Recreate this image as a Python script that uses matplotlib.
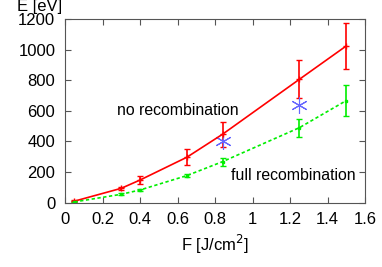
import numpy as np
import matplotlib.pyplot as plt

plt.rcParams['font.family'] = ['Liberation Sans', 'DejaVu Sans']

# data
fluence = [0.05, 0.3, 0.4, 0.65, 0.84, 1.25, 1.5]
e_norec = [10, 94, 148, 297, 447, 806, 1024]
err_norec = [5, 10, 27, 53, 82, 125, 150]
e_fullrec = [5, 55, 83, 177, 268, 490, 667]
err_fullrec = [3, 6, 8, 12, 25, 60, 100]
star_f = [0.84, 1.25]
star_e = [400, 635]

fig = plt.figure(figsize=(3.82, 2.67), dpi=100)
ax = fig.add_axes([65/382, 1 - 202.7/267, 300/382, 183.7/267])

ax.errorbar(fluence, e_norec, yerr=err_norec, color='#ff0000', lw=1.2,
            marker='+', ms=4, capsize=2, elinewidth=1.2)
ax.errorbar(fluence, e_fullrec, yerr=err_fullrec, color='#00ee00', lw=1.2,
            ls=(0, (2, 1.5)), marker='s', ms=2, capsize=2, elinewidth=1.2)
ax.plot(star_f, star_e, ls='none', marker=(6, 2, 0), ms=12, color='#6666ff',
        mew=0.8)

ax.text(0.277, 600, 'no recombination', fontsize=11.4, va='center')
ax.text(0.884, 176, 'full recombination', fontsize=11.4, va='center')

ax.set_xlim(0, 1.6)
ax.set_ylim(0, 1200)
ax.set_xticks(np.arange(0, 1.61, 0.2))
ax.set_xticklabels(['0', '0.2', '0.4', '0.6', '0.8', '1', '1.2', '1.4', '1.6'])
ax.set_yticks(np.arange(0, 1201, 200))
ax.tick_params(direction='in', top=True, right=True, labelsize=12, length=4,
               pad=7, color='#555555')
for s in ax.spines.values():
    s.set_color('#555555')
ax.set_xlabel(r'F [J/cm$^2$]', fontsize=12, labelpad=4)
fig.text(40/382, 1 - 7/267, 'E [eV]', fontsize=12, ha='center', va='center')

fig.savefig('out.png', dpi=100)
